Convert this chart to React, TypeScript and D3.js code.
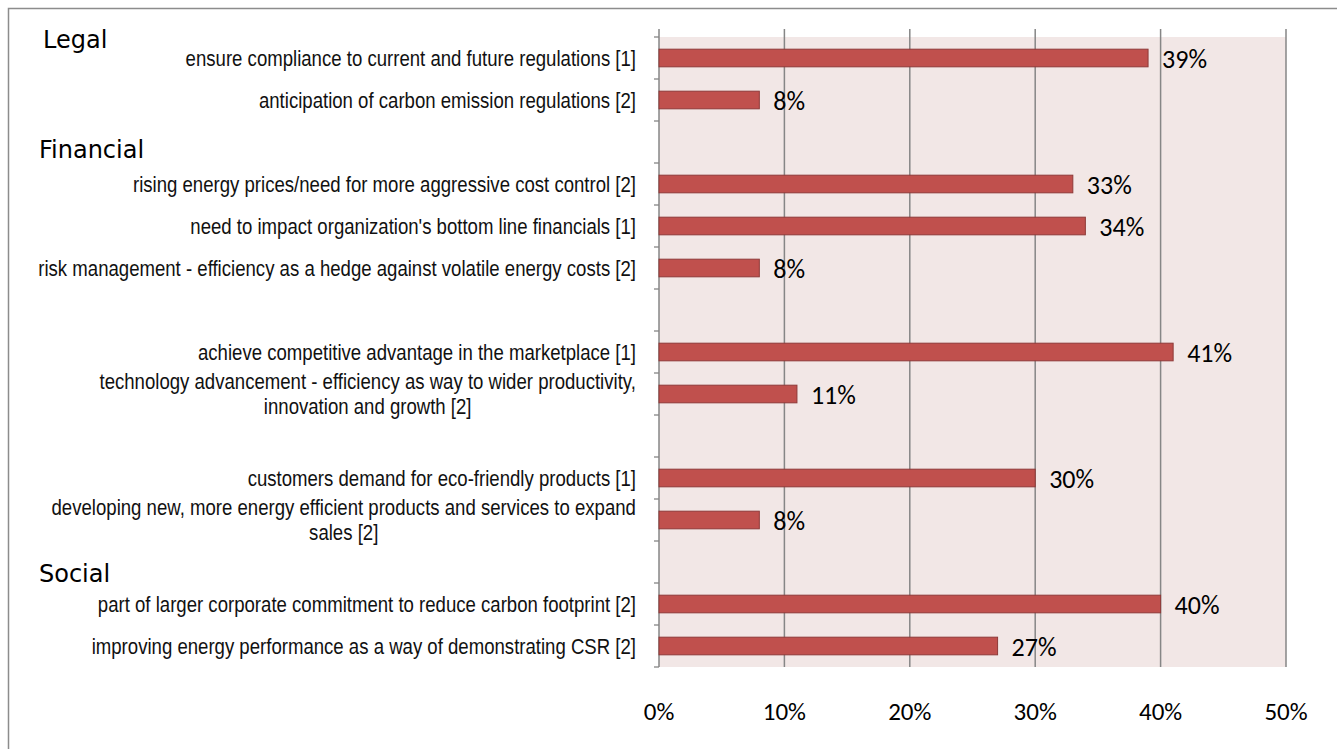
import React, { useEffect, useRef } from "react";
import * as d3 from "d3";

const categories: string[] = [
  "ensure compliance to current and future regulations [1]",
  "anticipation of carbon emission regulations [2]",
  "",
  "rising energy prices/need for more aggressive cost control [2]",
  "need to impact organization's bottom line financials [1]",
  "risk management - efficiency as a hedge against volatile energy costs [2]",
  "",
  "achieve competitive advantage in the marketplace [1]",
  "technology advancement - efficiency as way to wider productivity,\ninnovation and growth [2]",
  "",
  "customers demand for eco-friendly products [1]",
  "developing new, more energy efficient products and services to expand\nsales [2]",
  "",
  "part of larger corporate commitment to reduce carbon footprint [2]",
  "improving energy performance as a way of demonstrating CSR [2]",
];

const values: (number | null)[] = [39, 8, null, 33, 34, 8, null, 41, 11, null, 30, 8, null, 40, 27];

const groupNames: string[] = ["Legal", "Financial", "Social"];
const groupRowIndex: number[] = [0, 3, 13];

const xTicks: number[] = [0, 10, 20, 30, 40, 50];

const W = 1337;
const H = 749;

export default function App() {
  const ref = useRef<SVGSVGElement>(null);

  useEffect(() => {
    const svg = d3.select(ref.current!);
    svg.selectAll("*").remove();

    const left = 659, right = 1286, top = 37, bottom = 667;
    const x = d3.scaleLinear().domain([0, 50]).range([left, right]);
    const y = d3.scaleBand<number>().domain(categories.map((_, i) => i)).range([top, bottom]).paddingInner(0.58).paddingOuter(0.29);
    const slot = (bottom - top) / categories.length;

    // outer frame
    svg.append("rect").attr("x", 8.5).attr("y", 8.5).attr("width", W + 20).attr("height", H + 20)
      .attr("fill", "white").attr("stroke", "#8c8c8c").attr("stroke-width", 1.5);

    // plot background
    svg.append("rect").attr("x", left).attr("y", top).attr("width", right - left).attr("height", bottom - top)
      .attr("fill", "#f2e7e6");

    // gridlines
    svg.append("g").selectAll("line").data(xTicks).join("line")
      .attr("x1", d => x(d)).attr("x2", d => x(d)).attr("y1", top - 8).attr("y2", bottom)
      .attr("stroke", "#868686").attr("stroke-width", 1.5);

    // left axis ticks
    const tickYs = d3.range(categories.length + 1).map(i => top + i * slot);
    svg.append("g").selectAll("line").data(tickYs).join("line")
      .attr("x1", left - 5).attr("x2", left).attr("y1", d => d).attr("y2", d => d)
      .attr("stroke", "#868686").attr("stroke-width", 1.3);

    // bars
    const rows = categories.map((c, i) => ({ c, i, v: values[i] })).filter(d => d.v !== null);
    svg.append("g").selectAll("rect").data(rows).join("rect")
      .attr("x", x(0)).attr("y", d => y(d.i)!)
      .attr("width", d => x(d.v as number) - x(0)).attr("height", y.bandwidth())
      .attr("fill", "#c0504d").attr("stroke", "#8e3a38").attr("stroke-width", 1);

    // value labels
    svg.append("g").selectAll("text").data(rows).join("text")
      .attr("x", d => x(d.v as number) + 14).attr("y", d => y(d.i)! + y.bandwidth() / 2 + 1)
      .attr("dy", "0.35em")
      .attr("font-family", "Carlito, Calibri, Lato, sans-serif").attr("font-size", 26).attr("fill", "#000")
      .text(d => `${d.v}%`);

    // category labels (narrow sans: regular face compressed horizontally)
    const labelX = 636;
    const sx = 0.845;
    const lg = svg.append("g").attr("font-family", "'Liberation Sans', Arial, sans-serif")
      .attr("font-size", 22).attr("fill", "#111");
    categories.forEach((c, i) => {
      if (!c) return;
      const lines = c.split("\n");
      const cy = y(i)! + y.bandwidth() / 2;
      const lh = 24.5;
      if (lines.length === 1) {
        lg.append("text").attr("transform", `translate(${labelX},${cy}) scale(${sx},1)`)
          .attr("dy", "0.35em").attr("text-anchor", "end").text(c);
      } else {
        const texts = lines.map(ln => lg.append("text").attr("dy", "0.35em").attr("text-anchor", "middle").text(ln));
        const widths = texts.map(t => (t.node() as SVGTextElement).getComputedTextLength() * sx);
        const maxW = Math.max(...widths);
        texts.forEach((t, k) => {
          const ly = cy + (k - (lines.length - 1) / 2) * lh;
          t.attr("transform", `translate(${labelX - maxW / 2},${ly}) scale(${sx},1)`);
        });
      }
    });

    // group headers
    const headerOffsets = [-1, -17, -13];
    svg.append("g").selectAll("text").data(groupNames).join("text")
      .attr("x", (_, k) => (k === 0 ? 43 : 39))
      .attr("y", (_, k) => y(groupRowIndex[k])! + headerOffsets[k])
      .attr("font-family", "'URW Gothic', 'Century Gothic', 'DejaVu Sans', sans-serif").attr("font-size", 24).attr("fill", "#000")
      .text(d => d);

    // x tick labels
    svg.append("g").selectAll("text").data(xTicks).join("text")
      .attr("x", d => x(d)).attr("y", 711).attr("dy", "0.35em").attr("text-anchor", "middle")
      .attr("font-family", "Carlito, Calibri, Lato, sans-serif").attr("font-size", 25).attr("fill", "#000")
      .text(d => `${d}%`);
  }, []);

  return (
    <svg ref={ref} width={W} height={H} style={{ position: "absolute", left: 0, top: 0, background: "white" }} />
  );
}
